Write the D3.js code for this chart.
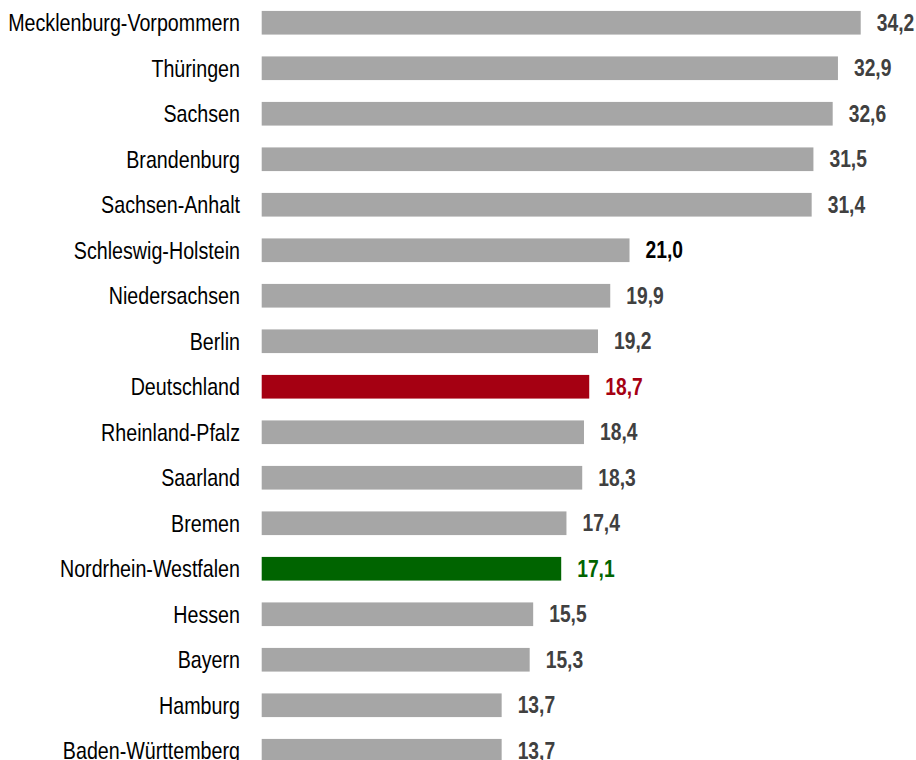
<!DOCTYPE html>
<html>
<head>
<meta charset="utf-8">
<script src="https://cdn.jsdelivr.net/npm/d3@7"></script>
<style>
  html, body { margin: 0; padding: 0; background: #fff; }
  svg { display: block; }
  .lbl { font-family: "Liberation Sans", Arial, sans-serif; font-size: 24px; fill: #000; }
  .val { font-family: "Liberation Sans", Arial, sans-serif; font-size: 23.5px; font-weight: bold; }
</style>
</head>
<body>
<svg id="chart" width="916" height="760"></svg>
<script>
// Bundesländer, sortiert nach Wert
const laender = [
  "Mecklenburg-Vorpommern", "Thüringen", "Sachsen", "Brandenburg", "Sachsen-Anhalt",
  "Schleswig-Holstein", "Niedersachsen", "Berlin", "Deutschland", "Rheinland-Pfalz",
  "Saarland", "Bremen", "Nordrhein-Westfalen", "Hessen", "Bayern", "Hamburg",
  "Baden-Württemberg"
];
const werte = [34.2, 32.9, 32.6, 31.5, 31.4, 21.0, 19.9, 19.2, 18.7, 18.4, 18.3, 17.4, 17.1, 15.5, 15.3, 13.7, 13.7];
// Hervorgehobene Balken: Bundesdurchschnitt und NRW
const hervorhebung = { "Deutschland": "#a50012", "Nordrhein-Westfalen": "#006400" };
// Textfarbe der Werte mit Sonderfällen
const wertFarbe = { "Schleswig-Holstein": "#000000", "Deutschland": "#a50012", "Nordrhein-Westfalen": "#006400" };

// schmale Schrift: horizontal gestauchte Liberation Sans
const stauchung = 0.82;

const svg = d3.select("#chart");
const x0 = 261.7;
const x = d3.scaleLinear().domain([0, 35]).range([x0, x0 + 35 * 17.515]);
const y = d3.scaleBand().domain(laender).range([0, 773.5]).paddingInner(0.48).paddingOuter(0.24);

const fmt = v => d3.format(".1f")(v).replace(".", ",");
const data = laender.map((n, i) => ({ name: n, wert: werte[i] }));

svg.selectAll("rect.bar").data(data).join("rect")
  .attr("class", "bar")
  .attr("x", x(0))
  .attr("y", d => y(d.name))
  .attr("width", d => x(d.wert) - x(0))
  .attr("height", y.bandwidth())
  .attr("fill", d => hervorhebung[d.name] || "#a6a6a6");

svg.selectAll("text.lbl").data(data).join("text")
  .attr("class", "lbl")
  .attr("transform", d => `translate(240,${y(d.name) + y.bandwidth() / 2}) scale(${stauchung},1)`)
  .attr("dy", "0.35em")
  .attr("text-anchor", "end")
  .text(d => d.name);

svg.selectAll("text.val").data(data).join("text")
  .attr("class", "val")
  .attr("transform", d => `translate(${x(d.wert) + 16},${y(d.name) + y.bandwidth() / 2}) scale(${stauchung},1)`)
  .attr("dy", "0.35em")
  .attr("fill", d => wertFarbe[d.name] || "#404040")
  .text(d => fmt(d.wert));
</script>
</body>
</html>
